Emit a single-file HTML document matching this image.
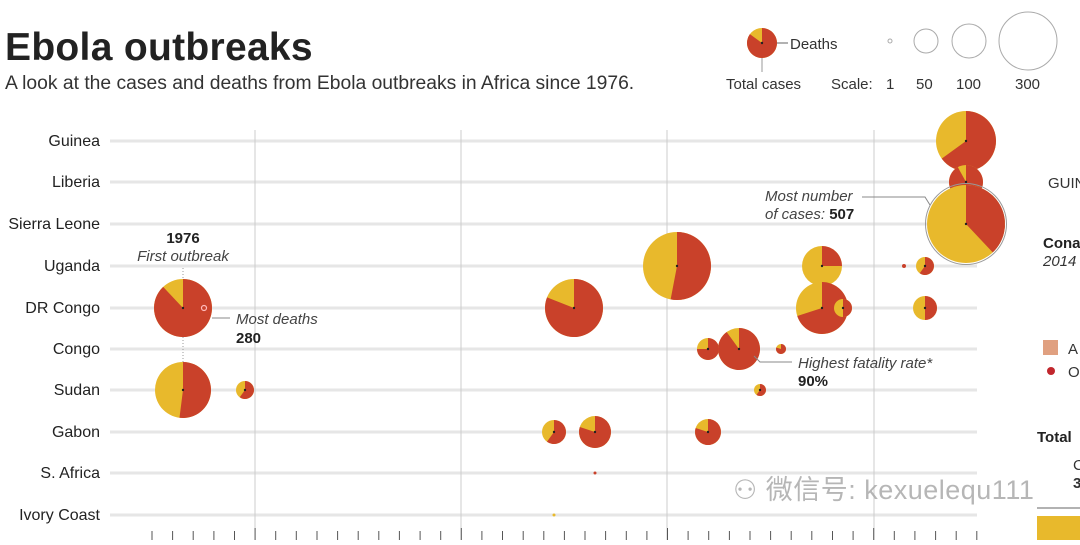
<!DOCTYPE html>
<html><head><meta charset="utf-8"><style>
body{margin:0;background:#fff;width:1080px;height:540px;overflow:hidden;font-family:"Liberation Sans","Noto Sans CJK SC",sans-serif}
</style></head><body>
<svg id="s" width="1080" height="540" xmlns="http://www.w3.org/2000/svg" font-family="Liberation Sans, Noto Sans CJK SC, sans-serif">
<text x="5" y="60" font-size="39" font-weight="bold" fill="#222" letter-spacing="0.3">Ebola outbreaks</text>
<text x="5" y="89" font-size="19.3" fill="#333">A look at the cases and deaths from Ebola outbreaks in Africa since 1976.</text>
<g font-size="15" fill="#333">
<text x="790" y="49">Deaths</text>
<text x="726" y="89">Total cases</text>
<text x="831" y="89">Scale:</text>
<text x="886" y="89">1</text><text x="916" y="89">50</text><text x="956" y="89">100</text><text x="1015" y="89">300</text>
</g>
<line x1="762" y1="58" x2="762" y2="72" stroke="#999"/>
<line x1="772" y1="43" x2="788" y2="43" stroke="#666"/>
<g fill="none" stroke="#aaa"><circle cx="890" cy="41" r="2"/><circle cx="926" cy="41" r="12"/><circle cx="969" cy="41" r="17"/><circle cx="1028" cy="41" r="29"/></g>
<g id="grid"></g>
<g font-size="16" fill="#222" text-anchor="end">
<text x="100" y="146">Guinea</text><text x="100" y="187">Liberia</text><text x="100" y="229">Sierra Leone</text><text x="100" y="271">Uganda</text><text x="100" y="313">DR Congo</text><text x="100" y="354">Congo</text><text x="100" y="395">Sudan</text><text x="100" y="437">Gabon</text><text x="100" y="478">S. Africa</text><text x="100" y="520">Ivory Coast</text>
</g>
<line x1="183" y1="268" x2="183" y2="362" stroke="#999" stroke-dasharray="1,2"/>
<g id="pies"></g>
<text x="183" y="243" font-size="15" font-weight="bold" text-anchor="middle" fill="#222">1976</text>
<text x="183" y="261" font-size="15" font-style="italic" text-anchor="middle" fill="#444">First outbreak</text>
<line x1="212" y1="318" x2="230" y2="318" stroke="#888"/>
<text x="236" y="324" font-size="15" font-style="italic" fill="#444">Most deaths</text>
<text x="236" y="343" font-size="15" font-weight="bold" fill="#222">280</text>
<text x="765" y="201" font-size="15" font-style="italic" fill="#444">Most number</text>
<text x="765" y="219" font-size="15" font-style="italic" fill="#444">of cases: <tspan font-weight="bold" font-style="normal" fill="#222">507</tspan></text>
<polyline points="862,197 925,197 930,205" fill="none" stroke="#888"/>
<polyline points="754,356 760,362 792,362" fill="none" stroke="#888"/>
<text x="798" y="368" font-size="15" font-style="italic" fill="#444">Highest fatality rate*</text>
<text x="798" y="386" font-size="15" font-weight="bold" fill="#222">90%</text>
<circle cx="204" cy="308" r="2.5" fill="none" stroke="#fbb" stroke-width="1.2"/>
<g font-size="15" fill="#333">
<text x="1048" y="188">GUIN</text>
<text x="1043" y="248" font-weight="bold" fill="#222">Cona</text>
<text x="1043" y="266" font-style="italic">2014</text>
<rect x="1043" y="340" width="15" height="15" fill="#e0a080"/><text x="1068" y="354">A</text>
<circle cx="1051" cy="371" r="4" fill="#c1272d"/><text x="1068" y="377">O</text>
<text x="1037" y="442" font-weight="bold" fill="#222">Total</text>
<text x="1073" y="470">C</text><text x="1073" y="488" font-weight="bold">3</text>
</g>
<line x1="1037" y1="508" x2="1080" y2="508" stroke="#666"/>
<rect x="1037" y="516" width="43" height="24" fill="#e8b92c"/>
<text x="733" y="499" font-size="27" fill="#aaa" opacity="0.85" letter-spacing="0.5">⚇ 微信号: kexuelequ111</text>
</svg>
<script>
var Y='#e8b92c',R='#c9412a';
var g=document.getElementById('grid'),h='';
[141,182,224,266,308,349,390,432,473,515].forEach(function(y){h+='<line x1="110" y1="'+y+'" x2="977" y2="'+y+'" stroke="#e6e6e6" stroke-width="3"/>';});
[255,461,667,874].forEach(function(x){h+='<line x1="'+x+'" y1="130" x2="'+x+'" y2="540" stroke="#ccc"/>';});
for(var i=0;i<=40;i++){var x=152+i*20.62;var maj=Math.abs(x-255)<3||Math.abs(x-461)<3||Math.abs(x-667)<3||Math.abs(x-874)<3;h+='<line x1="'+x.toFixed(1)+'" y1="'+(maj?528:531)+'" x2="'+x.toFixed(1)+'" y2="540" stroke="#555"/>';}
g.innerHTML=h;
function pie(cx,cy,r,f,ol){var s='';s+='<circle cx="'+cx+'" cy="'+cy+'" r="'+r+'" fill="'+Y+'"/>';
if(f>=0.999)s+='<circle cx="'+cx+'" cy="'+cy+'" r="'+r+'" fill="'+R+'"/>';else if(f>0){var a=f*2*Math.PI;var x=cx+r*Math.sin(a),y=cy-r*Math.cos(a);s+='<path d="M'+cx+','+cy+' L'+cx+','+(cy-r)+' A'+r+','+r+' 0 '+(f>0.5?1:0)+' 1 '+x.toFixed(2)+','+y.toFixed(2)+' Z" fill="'+R+'"/>';}
if(ol)s+='<circle cx="'+cx+'" cy="'+cy+'" r="'+(r+1.5)+'" fill="none" stroke="#999" stroke-width="1"/>';
if(r>5)s+='<circle cx="'+cx+'" cy="'+cy+'" r="1.2" fill="#222"/>';return s;}
var P=[[762,43,15,0.85],[183,308,29,0.88],[183,390,28,0.52],[245,390,9,0.6],[574,308,29,0.81],[677,266,34,0.53],
[554,432,12,0.6],[595,432,16,0.8],[708,432,13,0.8],[708,349,11,0.75],[739,349,21,0.9],[781,349,5,0.8],[760,390,6,0.6],
[822,266,20,0.25],[822,308,26,0.7],[843,308,9,0.5],[925,266,9,0.6],[925,308,12,0.5],[966,141,30,0.65],[966,182,17,0.92],[966,224,39,0.38,1]];
var s='';P.forEach(function(p){s+=pie(p[0],p[1],p[2],p[3],p[4]);});
s+='<circle cx="904" cy="266" r="2" fill="'+R+'"/><circle cx="595" cy="473" r="1.5" fill="'+R+'"/><circle cx="554" cy="515" r="1.5" fill="'+Y+'"/>';
document.getElementById('pies').innerHTML=s;
</script>
</body></html>
